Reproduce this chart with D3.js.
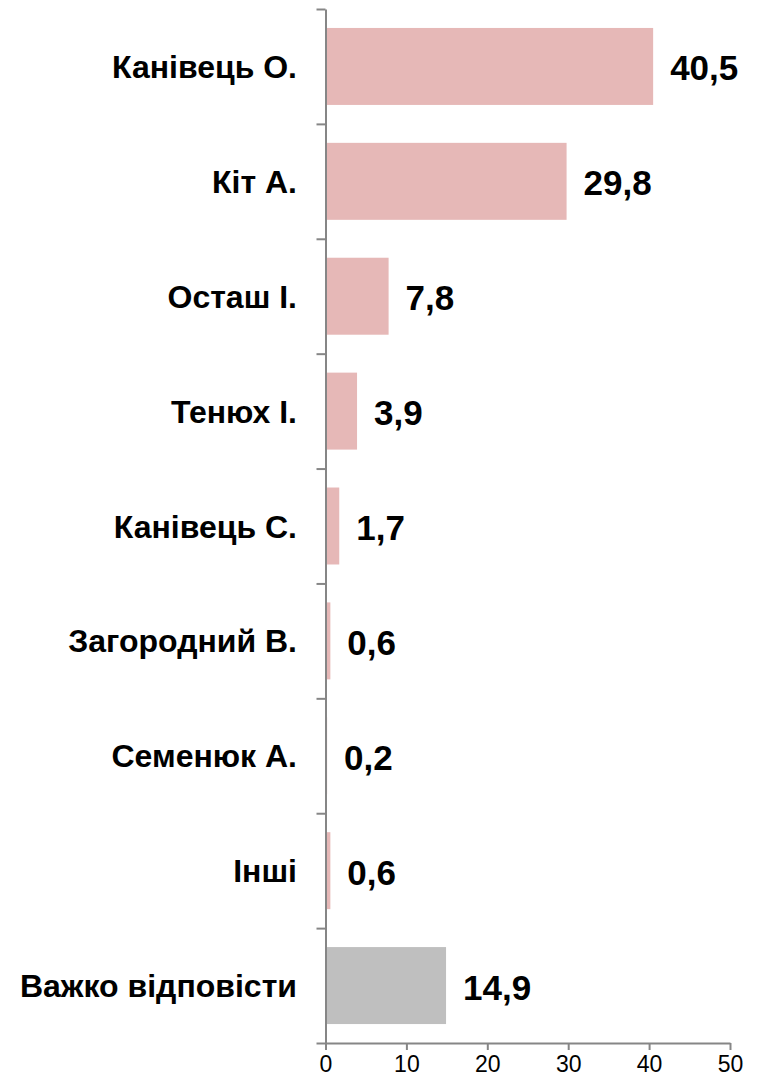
<!DOCTYPE html>
<html>
<head>
<meta charset="utf-8">
<style>
  body { margin: 0; background: #fff; }
  svg text { font-family: "Liberation Sans", Arial, sans-serif; }
</style>
</head>
<body>
<svg id="chart" width="762" height="1082"></svg>
<script src="https://cdn.jsdelivr.net/npm/d3@7"></script>
<script>
var names = ["Канівець О.", "Кіт А.", "Осташ І.", "Тенюх І.", "Канівець С.",
             "Загородний В.", "Семенюк А.", "Інші", "Важко відповісти"];
var values = [40.5, 29.8, 7.8, 3.9, 1.7, 0.6, 0.2, 0.6, 14.9];
var barColors = ["#e6b8b7", "#e6b8b7", "#e6b8b7", "#e6b8b7", "#e6b8b7",
                 "#e6b8b7", "#e6b8b7", "#e6b8b7", "#bfbfbf"];
var xTicks = [0, 10, 20, 30, 40, 50];

var svg = d3.select("#chart"),
    plotLeft = 325.5, plotRight = 730, plotTop = 9, plotBottom = 1043;

var x = d3.scaleLinear().domain([0, 50]).range([plotLeft, plotRight]);
var y = d3.scaleBand().domain(names).range([plotTop, plotBottom])
    .paddingInner(0.33).paddingOuter(0.165);
// boundaries between categories, used for the left axis ticks
var yEdge = d3.scaleLinear().domain([0, names.length]).range([plotTop, plotBottom]);

var data = names.map(function(n, i) { return {name: n, value: values[i], color: barColors[i]}; });

svg.selectAll("rect.bar")
    .data(data)
  .enter().append("rect")
    .attr("class", "bar")
    .attr("x", x(0))
    .attr("y", function(d) { return y(d.name); })
    .attr("width", function(d) { return x(d.value) - x(0); })
    .attr("height", y.bandwidth())
    .attr("fill", function(d) { return d.color; });

// y axis: line + ticks on the category borders
var yAxis = svg.append("g")
    .attr("transform", "translate(" + plotLeft + ",0)")
    .call(d3.axisLeft(yEdge).ticks(names.length).tickFormat("").tickSizeInner(9).tickSizeOuter(0));

// x axis
var xAxis = svg.append("g")
    .attr("transform", "translate(0," + plotBottom + ")")
    .call(d3.axisBottom(x).tickValues(xTicks).tickSizeInner(7).tickSizeOuter(0).tickPadding(6));

[yAxis, xAxis].forEach(function(a) {
  a.select(".domain").attr("stroke", "#868686").attr("stroke-width", 2);
  a.selectAll(".tick line").attr("stroke", "#868686").attr("stroke-width", 2);
});
xAxis.selectAll(".tick text")
    .attr("fill", "#000")
    .style("font-size", "23px");

// category labels
svg.selectAll("text.cat")
    .data(data)
  .enter().append("text")
    .attr("class", "cat")
    .attr("x", 297)
    .attr("y", function(d) { return y(d.name) + y.bandwidth() / 2; })
    .attr("dy", "0.36em")
    .attr("text-anchor", "end")
    .style("font-size", "32px")
    .style("font-weight", "bold")
    .text(function(d) { return d.name; });

// value labels
svg.selectAll("text.val")
    .data(data)
  .enter().append("text")
    .attr("class", "val")
    .attr("x", function(d) { return x(d.value) + 17; })
    .attr("y", function(d) { return y(d.name) + y.bandwidth() / 2; })
    .attr("dy", "0.4em")
    .style("font-size", "35px")
    .style("font-weight", "bold")
    .text(function(d) { return d3.format(".1f")(d.value).replace(".", ","); });
</script>
</body>
</html>
